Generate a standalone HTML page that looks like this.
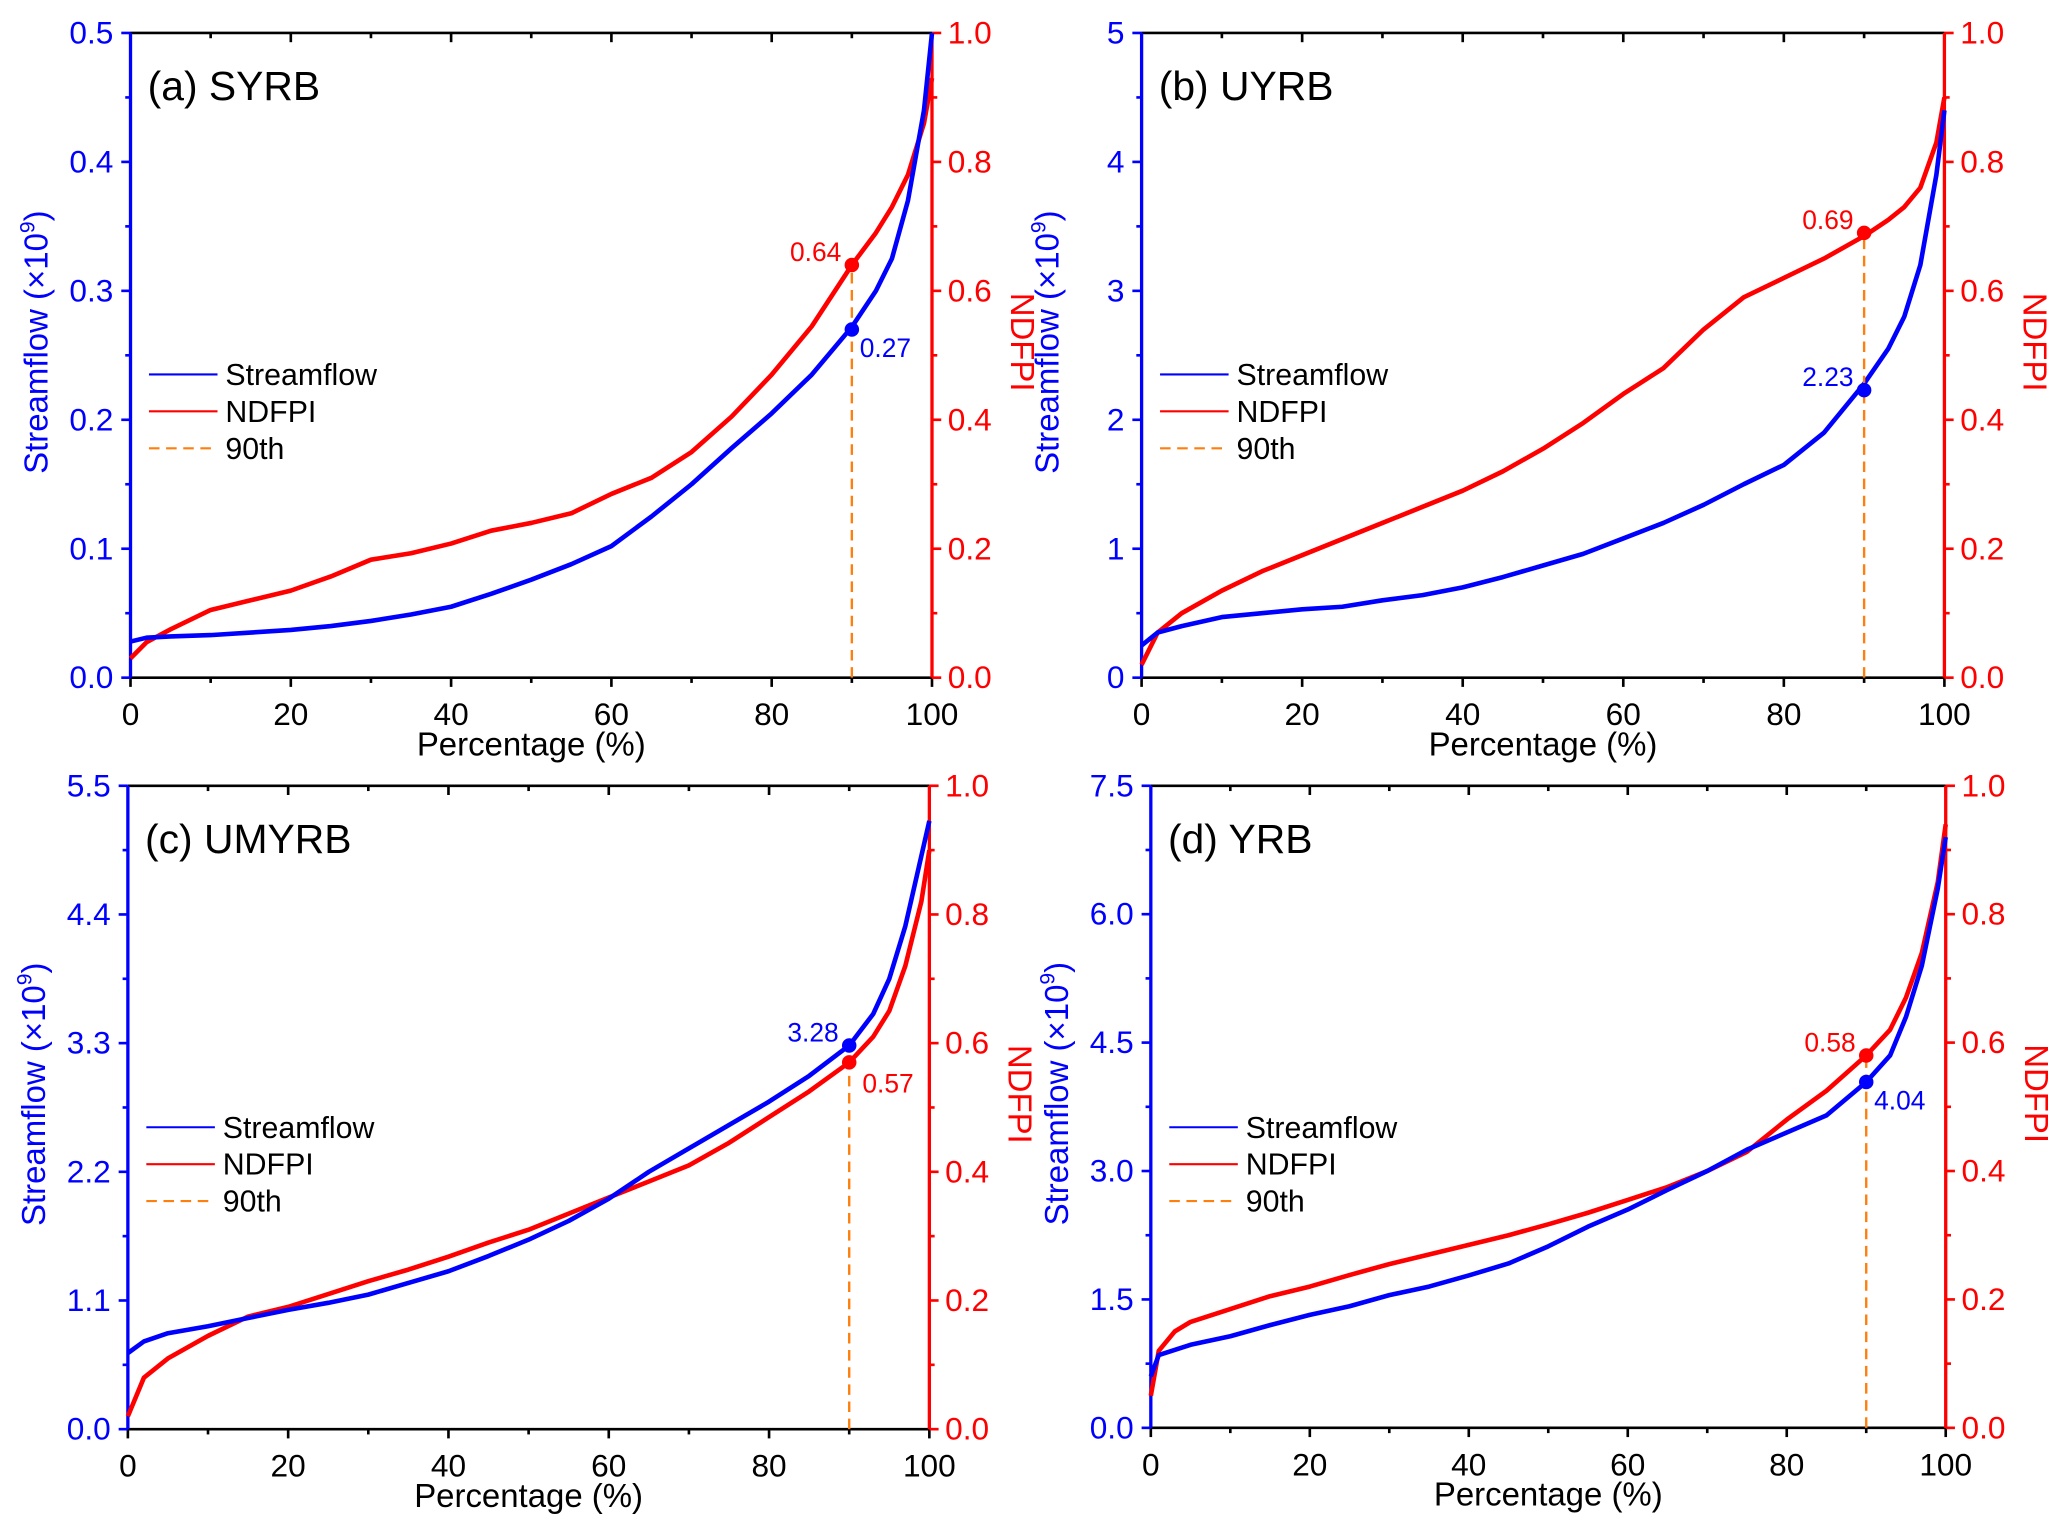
<!DOCTYPE html>
<html><head><meta charset="utf-8"><style>html,body{margin:0;padding:0;background:#fff}svg{display:block}text{font-family:"Liberation Sans",Arial,sans-serif}</style></head>
<body>
<svg id="fig" width="2067" height="1532" viewBox="0 0 1568 1162" preserveAspectRatio="none" xmlns="http://www.w3.org/2000/svg"></svg>
<script>
const xPct = [0,2,5,10,15,20,25,30,35,40,45,50,55,60,65,70,75,80,85,90,93,95,97,99,100];
const xPctD = [0,1,5,10,15,20,25,30,35,40,45,50,55,60,65,70,75,80,85,90,93,95,97,99,100];
const xPctDN = [0,1,3,5,10,15,20,25,30,35,40,45,50,55,60,65,70,75,80,85,90,93,95,97,99,100];
const flowA = [0.028,0.031,0.032,0.033,0.035,0.037,0.040,0.044,0.049,0.055,0.065,0.076,0.088,0.102,0.125,0.150,0.178,0.205,0.235,0.272,0.30,0.325,0.37,0.44,0.50];
const ndfpiA = [0.03,0.055,0.075,0.105,0.12,0.135,0.157,0.183,0.193,0.208,0.228,0.24,0.255,0.285,0.31,0.35,0.405,0.47,0.545,0.64,0.69,0.73,0.78,0.86,0.93];
const flowB = [0.25,0.35,0.4,0.47,0.5,0.53,0.55,0.6,0.64,0.7,0.78,0.87,0.96,1.08,1.2,1.34,1.5,1.65,1.9,2.28,2.55,2.8,3.2,3.9,4.4];
const ndfpiB = [0.02,0.07,0.1,0.135,0.165,0.19,0.215,0.24,0.265,0.29,0.32,0.355,0.395,0.44,0.48,0.54,0.59,0.62,0.65,0.685,0.71,0.73,0.76,0.83,0.9];
const flowC = [0.65,0.75,0.82,0.88,0.95,1.02,1.08,1.15,1.25,1.35,1.48,1.62,1.78,1.97,2.2,2.4,2.6,2.8,3.02,3.28,3.55,3.85,4.3,4.9,5.2];
const ndfpiC = [0.02,0.08,0.11,0.145,0.175,0.19,0.21,0.23,0.248,0.268,0.29,0.31,0.335,0.36,0.385,0.41,0.445,0.485,0.525,0.57,0.61,0.65,0.72,0.82,0.9];
const flowD = [0.6,0.85,0.97,1.07,1.2,1.32,1.42,1.55,1.65,1.78,1.92,2.12,2.35,2.55,2.78,3.0,3.25,3.45,3.65,4.04,4.35,4.8,5.4,6.3,6.9];
const ndfpiD = [0.05,0.12,0.15,0.165,0.185,0.205,0.22,0.238,0.255,0.27,0.285,0.3,0.317,0.335,0.355,0.375,0.4,0.43,0.48,0.525,0.58,0.62,0.67,0.74,0.85,0.94];
const xTicks = [0,20,40,60,80,100];
const ticksA = ["0.0","0.1","0.2","0.3","0.4","0.5"];
const ticksB = ["0","1","2","3","4","5"];
const ticksC = ["0.0","1.1","2.2","3.3","4.4","5.5"];
const ticksD = ["0.0","1.5","3.0","4.5","6.0","7.5"];
const ticksR = ["0.0","0.2","0.4","0.6","0.8","1.0"];
const titles = ["(a) SYRB","(b) UYRB","(c) UMYRB","(d) YRB"];
const flowMark = [0.27,2.23,3.28,4.04];
const ndfpiMark = [0.64,0.69,0.57,0.58];
const flowMax = [0.5,5,5.5,7.5];

const NS="http://www.w3.org/2000/svg";
const svg=document.getElementById('fig');
function mk(tag,attrs,parent,txt){const e=document.createElementNS(NS,tag);for(const k in attrs)e.setAttribute(k,attrs[k]);if(txt!==undefined)e.textContent=txt;(parent||svg).appendChild(e);return e;}
const BLUE="#0000ff",RED="#ff0000",ORANGE="#ff7f0e";
const panels=[
 {L:99,R:707,T:25,B:514,fx:xPct,fy:flowA,nx:xPct,ny:ndfpiA,yt:ticksA,flowLbl:"right",ndLbl:"left",name:"syrb"},
 {L:866,R:1475,T:25,B:514,fx:xPct,fy:flowB,nx:xPct,ny:ndfpiB,yt:ticksB,flowLbl:"left",ndLbl:"left",name:"uyrb"},
 {L:97,R:705,T:596,B:1084,fx:xPct,fy:flowC,nx:xPct,ny:ndfpiC,yt:ticksC,flowLbl:"left",ndLbl:"right",name:"umyrb"},
 {L:873,R:1476,T:596,B:1083,fx:xPctD,fy:flowD,nx:xPctDN,ny:ndfpiD,yt:ticksD,flowLbl:"right",ndLbl:"left",name:"yrb"}];
panels.forEach((p,i)=>{
 const g=mk('g',{});
 
 
 const X=v=>p.L+(p.R-p.L)*v/100;
 const YL=v=>p.B-(p.B-p.T)*v/flowMax[i];
 const YR=v=>p.B-(p.B-p.T)*v;
 const top=mk('line',{x1:p.L,y1:p.T,x2:p.R,y2:p.T,stroke:'#000','stroke-width':2},g);
 
 
 const bot=mk('line',{x1:p.L,y1:p.B,x2:p.R,y2:p.B,stroke:'#000','stroke-width':2},g);
 
 
 for(let v=0;v<=100;v+=10){const maj=v%20===0;
  mk('line',{x1:X(v),y1:p.B,x2:X(v),y2:p.B+(maj?7:4),stroke:'#000','stroke-width':2},g);
  mk('line',{x1:X(v),y1:p.T,x2:X(v),y2:p.T+(maj?7:4),stroke:'#000','stroke-width':2},g);}
 xTicks.forEach(v=>{const t=mk('text',{x:X(v),y:p.B+36,'font-size':24,'text-anchor':'middle'},g,String(v));
  
  });
 const xt=mk('text',{x:(p.L+p.R)/2,y:p.B+59,'font-size':25,'text-anchor':'middle'},g,'Percentage (%)');
 
 
 const la=mk('line',{x1:p.L,y1:p.T,x2:p.L,y2:p.B,stroke:BLUE,'stroke-width':2.5},g);
 
 
 for(let k=0;k<=10;k++){const y=p.B-(p.B-p.T)*k/10;mk('line',{x1:p.L,y1:y,x2:p.L-(k%2?4:7),y2:y,stroke:BLUE,'stroke-width':2},g);}
 p.yt.forEach((s,k)=>{const t=mk('text',{x:p.L-13,y:p.B-(p.B-p.T)*k/5+8,'font-size':24,'text-anchor':'end',fill:BLUE},g,s);
  
  });
 const ly=mk('text',{transform:`translate(${p.L-63},${(p.T+p.B)/2-10}) rotate(-90)`,'font-size':25,'text-anchor':'middle',fill:BLUE},g);
 
 
 ly.innerHTML='Streamflow (×10<tspan dy="-10" font-size="16">9</tspan><tspan dy="10">)</tspan>';
 const ra=mk('line',{x1:p.R,y1:p.T,x2:p.R,y2:p.B,stroke:RED,'stroke-width':2.5},g);
 
 
 for(let k=0;k<=10;k++){const y=p.B-(p.B-p.T)*k/10;mk('line',{x1:p.R,y1:y,x2:p.R+(k%2?4:7),y2:y,stroke:RED,'stroke-width':2},g);}
 ticksR.forEach((s,k)=>{const t=mk('text',{x:p.R+12,y:YR(k*0.2)+8,'font-size':24,fill:RED},g,s);
  
  });
 const ry=mk('text',{transform:`translate(${p.R+60},${(p.T+p.B)/2-10}) rotate(90)`,'font-size':25,'text-anchor':'middle',fill:RED},g,'NDFPI');
 
 
 const ndp=mk('polyline',{points:p.nx.map((v,k)=>X(v)+','+YR(p.ny[k])).join(' '),fill:'none',stroke:RED,'stroke-width':3.5,'stroke-linejoin':'round'},g);
 
 
 const fp=mk('polyline',{points:p.fx.map((v,k)=>X(v)+','+YL(p.fy[k])).join(' '),fill:'none',stroke:BLUE,'stroke-width':3.5,'stroke-linejoin':'round'},g);
 
 
 const yb=YL(flowMark[i]),yr=YR(ndfpiMark[i]);
 const dl=mk('line',{x1:X(90),y1:p.B,x2:X(90),y2:Math.min(yb,yr),stroke:ORANGE,'stroke-width':1.8,'stroke-dasharray':'8,5'},g);
 
 
 const bd=mk('circle',{cx:X(90),cy:yb,r:5.5,fill:BLUE},g);
 
 
 const rd=mk('circle',{cx:X(90),cy:yr,r:5.5,fill:RED},g);
 
 
 const bl=p.flowLbl==='right'?mk('text',{x:X(90)+6,y:yb+21,'font-size':20,fill:BLUE},g,flowMark[i].toFixed(2)):mk('text',{x:X(90)-8,y:yb-3,'font-size':20,fill:BLUE,'text-anchor':'end'},g,flowMark[i].toFixed(2));
 
 
 const rl=p.ndLbl==='right'?mk('text',{x:X(90)+10,y:yr+23,'font-size':20,fill:RED},g,ndfpiMark[i].toFixed(2)):mk('text',{x:X(90)-8,y:yr-3,'font-size':20,fill:RED,'text-anchor':'end'},g,ndfpiMark[i].toFixed(2));
 
 
 const tt=mk('text',{x:p.L+13,y:p.T+51,'font-size':31},g,titles[i]);
 
 
 const lg=mk('g',{},g);
 
 
 const lx=p.L+14, ly0=p.T+259;
 [["Streamflow",BLUE,""],["NDFPI",RED,""],["90th",ORANGE,"8,5"]].forEach((e,k)=>{
  const y=ly0+k*28;
  const ln=mk('line',{x1:lx,y1:y,x2:lx+52,y2:y,stroke:e[1],'stroke-width':1.6,'stroke-dasharray':e[2]||'none'},lg);
  
  
  const t=mk('text',{x:lx+58,y:y+8,'font-size':23},lg,e[0]);
  
  
 });
});
</script>
</body></html>
